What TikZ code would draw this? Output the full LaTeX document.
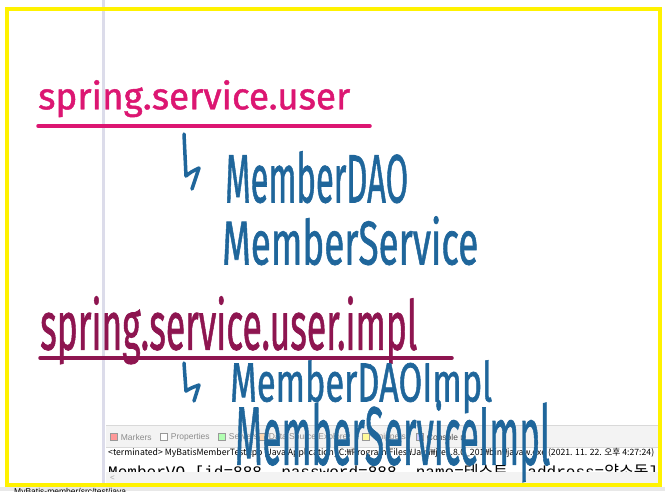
\documentclass[tikz,border=0pt]{standalone}
\usepackage{fontspec}
\usepackage{graphicx}
\usetikzlibrary{positioning}
\newfontfamily\handfont[FakeBold=1.2]{Fira Sans}
\newfontfamily\uifont{Liberation Sans}
\newfontfamily\krfont{Noto Sans CJK KR}
\newfontfamily\monofont{Liberation Mono}
\newfontfamily\symfont{DejaVu Sans}
\definecolor{penpink}{HTML}{DC1672}
\definecolor{penwine}{HTML}{8E1550}
\definecolor{penblue}{HTML}{1F669B}
\definecolor{markyellow}{HTML}{FFF200}
\definecolor{sash}{HTML}{DCDCEA}
\definecolor{tabgray}{HTML}{F3F3F3}
\newcommand{\handbox}[3]{\resizebox*{#1}{#2}{\handfont #3}}

\begin{document}
\begin{tikzpicture}[x=1pt, y=-1pt,
    pen/.style={line width=3.5pt, line cap=round, line join=round},
    hand/.style={anchor=north west, inner sep=0pt},
    tab/.style={anchor=west, inner sep=0pt,
                font=\uifont\fontsize{8.5}{10}\selectfont, text=black!45},
    tabicon/.style={draw=black!40, fill=#1, minimum size=7pt, inner sep=0pt}]
  \useasboundingbox (0,0) rectangle (665,491);
  \fill[white] (0,0) rectangle (665,491);

  % eclipse sash
  \fill[sash] (102,0) rectangle (105,487);

  % console view
  \fill[tabgray] (106,425) rectangle (658,447);
  \draw[black!15] (106,425.5) -- (658,425.5);
  \draw[black!15] (106,447) -- (658,447);
  \node[tabicon=red!40] (iconMarkers) at (114,437) {};
  \node[tab, right=3pt of iconMarkers] (tabMarkers) {Markers};
  \node[tabicon=white] (iconProps) at (164,437) {};
  \node[tab, right=3pt of iconProps] (tabProps) {Properties};
  \node[tabicon=green!30] (iconServers) at (222,437) {};
  \node[tab, right=3pt of iconServers] (tabServers) {Servers};
  \node[tabicon=orange!30] (iconData) at (262,437) {};
  \node[tab, right=3pt of iconData] (tabData) {Data Source Explorer};
  \node[tabicon=yellow!40] (iconSnip) at (366,437) {};
  \node[tab, right=3pt of iconSnip] (tabSnip) {Snippets};
  \node[tabicon=blue!20] (iconConsole) at (420,437) {};
  \node[tab, right=3pt of iconConsole, text=black!70] (tabConsole)
    {Console \symfont\fontsize{7}{8}\selectfont ⊠};

  \node[anchor=west, inner sep=0pt] (termLine) at (108,453)
    {\resizebox{546pt}{!}{\krfont\fontsize{9}{10}\selectfont
     <terminated> MyBatisMemberTestApp [Java Application] C:₩Program Files₩Java₩jre1.8.0\_201₩bin₩javaw.exe (2021. 11. 22. 오후 4:27:24)}};

  \begin{scope}
    \clip (106,458) rectangle (658,472);
    \node[anchor=north west, inner sep=0pt] (outLine) at (108,464)
      {\resizebox{550pt}{!}{\monofont\fontsize{12}{14}\selectfont
       MemberVO [id=888, password=888, name={\krfont 테스트}, address={\krfont 양소동}]}};
  \end{scope}
  \fill[tabgray] (106,472) rectangle (658,484);
  \node[anchor=west, inner sep=0pt, text=black!35,
        font=\uifont\fontsize{8}{9}\selectfont] (scrollLeft) at (110,478) {<};

  % status bar
  \fill[black!9] (0,487) rectangle (665,491);
  \begin{scope}
    \clip (0,487) rectangle (665,491);
    \node[anchor=north west, inner sep=0pt,
          font=\uifont\fontsize{8.5}{10}\selectfont] (statusPath) at (14,488.5)
      {MyBatis-member/src/test/java};
  \end{scope}

  % highlight frame
  \draw[markyellow, line width=4pt] (7,9) rectangle (660,485);

  % handwriting
  \node[hand, text=penpink] (pkgUser) at (38,80)
    {\handbox{312pt}{37pt}{spring.service.user}};
  \draw[pen, penpink] (38,126) -- (370,126);

  \draw[pen, penblue] (184,134) -- (186,176)
    .. controls (191,172) .. (199,168) -- (192,189);
  \node[hand, text=penblue] (dao) at (225,151)
    {\handbox{183pt}{52pt}{MemberDAO}};
  \node[hand, text=penblue] (svc) at (222,216)
    {\handbox{256pt}{49pt}{MemberService}};

  \node[hand, text=penwine] (pkgImpl) at (40,296)
    {\handbox{377pt}{68pt}{spring.service.user.impl}};
  \draw[pen, penwine] (40,358) -- (452,358);

  \draw[pen, penblue] (184,363) -- (186,391)
    .. controls (191,388) .. (199,385) -- (194,401);
  \node[hand, text=penblue] (daoImpl) at (230,360)
    {\handbox{262pt}{53pt}{MemberDAOImpl}};
  \node[hand, text=penblue] (svcImpl) at (235,400)
    {\handbox{315pt}{82pt}{MemberServiceImpl}};
\end{tikzpicture}
\end{document}
